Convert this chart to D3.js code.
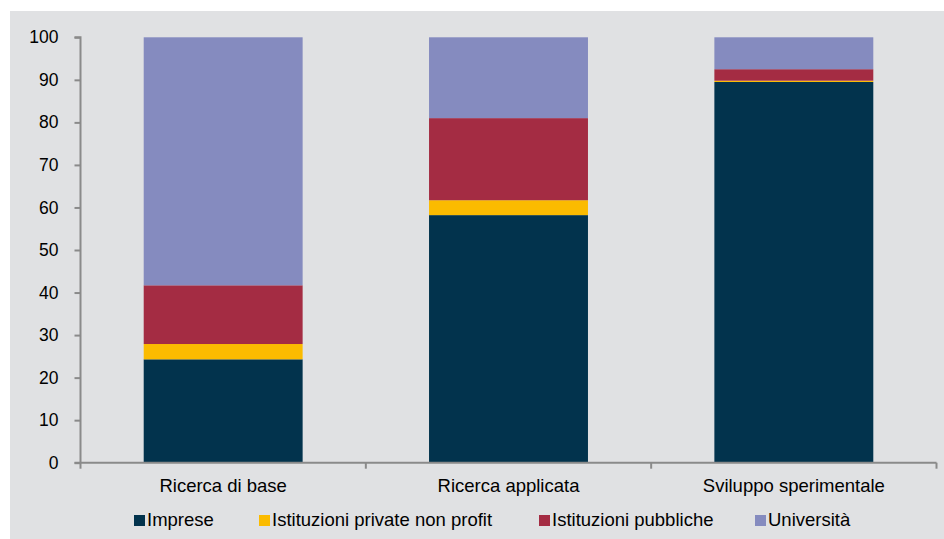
<!DOCTYPE html>
<html>
<head>
<meta charset="utf-8">
<script src="https://cdn.jsdelivr.net/npm/d3@7/dist/d3.min.js"></script>
<style>
  html, body { margin: 0; padding: 0; background: #ffffff; }
  svg { display: block; }
  text { font-family: "Liberation Sans", Arial, sans-serif; fill: #000; }
</style>
</head>
<body>
<svg id="chart" width="944" height="539"></svg>
<script>
// Categories of R&D activity and the share (%) carried out by each sector
const categories = ["Ricerca di base", "Ricerca applicata", "Sviluppo sperimentale"];
const seriesNames = ["Imprese", "Istituzioni private non profit", "Istituzioni pubbliche", "Università"];
const imprese = [24.3, 58.2, 89.5];
const nonProfit = [3.6, 3.5, 0.3];
const pubbliche = [13.8, 19.3, 2.7];
const universita = [58.3, 19.0, 7.5];
const yTicks = [0, 10, 20, 30, 40, 50, 60, 70, 80, 90, 100];
const colors = ["#02334d", "#fbbb00", "#a42c43", "#858bbf"];

const rows = categories.map((c, i) => ({
  cat: c,
  "Imprese": imprese[i],
  "Istituzioni private non profit": nonProfit[i],
  "Istituzioni pubbliche": pubbliche[i],
  "Università": universita[i]
}));

const svg = d3.select("#chart");
svg.append("rect").attr("x", 10).attr("y", 11).attr("width", 934).attr("height", 528).attr("fill", "#e0e1e3");

const plot = { left: 80.5, right: 936.5, top: 37.3, bottom: 462.7 };

const x = d3.scaleBand().domain(categories).range([plot.left, plot.right]).paddingInner(0.443).paddingOuter(0.2215);
const y = d3.scaleLinear().domain([0, 100]).range([plot.bottom, plot.top]);

const stack = d3.stack().keys(seriesNames)(rows);

svg.append("g").selectAll("g")
  .data(stack)
  .join("g")
  .attr("fill", (d, i) => colors[i])
  .selectAll("rect")
  .data(d => d)
  .join("rect")
  .attr("x", d => x(d.data.cat))
  .attr("width", x.bandwidth())
  .attr("y", d => y(d[1]))
  .attr("height", d => y(d[0]) - y(d[1]));

const axisColor = "#8a8a8a";
const labelSize = 18.5;

// Y axis
const yAxis = svg.append("g")
  .attr("transform", `translate(${plot.left},0)`)
  .call(d3.axisLeft(y).tickValues(yTicks).tickSize(6).tickPadding(16));
yAxis.select(".domain").attr("stroke", axisColor).attr("stroke-width", 2).attr("d", `M-6,${plot.top}H0V${plot.bottom}`);
yAxis.selectAll(".tick line").attr("stroke", axisColor).attr("stroke-width", 2);
yAxis.selectAll(".tick text").attr("font-size", 17.5).attr("font-family", "Liberation Sans, Arial, sans-serif").attr("fill", "#000");

// X axis with ticks between categories
const bounds = d3.range(categories.length + 1).map(i => plot.left + i * (plot.right - plot.left) / categories.length);
const xg = svg.append("g");
xg.append("line")
  .attr("x1", plot.left - 6).attr("x2", plot.right)
  .attr("y1", plot.bottom).attr("y2", plot.bottom)
  .attr("stroke", axisColor).attr("stroke-width", 2);
xg.selectAll("line.tk")
  .data(bounds)
  .join("line")
  .attr("class", "tk")
  .attr("x1", d => d).attr("x2", d => d)
  .attr("y1", plot.bottom).attr("y2", plot.bottom + 6)
  .attr("stroke", axisColor).attr("stroke-width", 2);
xg.selectAll("text")
  .data(categories)
  .join("text")
  .attr("x", d => x(d) + x.bandwidth() / 2)
  .attr("y", 492)
  .attr("text-anchor", "middle")
  .attr("font-size", labelSize)
  .text(d => d);

// Legend
const legendX = [134, 259, 539, 755];
const legend = svg.append("g").selectAll("g")
  .data(seriesNames)
  .join("g")
  .attr("transform", (d, i) => `translate(${legendX[i]},515)`);
legend.append("rect").attr("width", 11).attr("height", 11).attr("fill", (d, i) => colors[i]);
legend.append("text").attr("x", 13).attr("y", 11).attr("font-size", labelSize).text(d => d);
</script>
</body>
</html>
